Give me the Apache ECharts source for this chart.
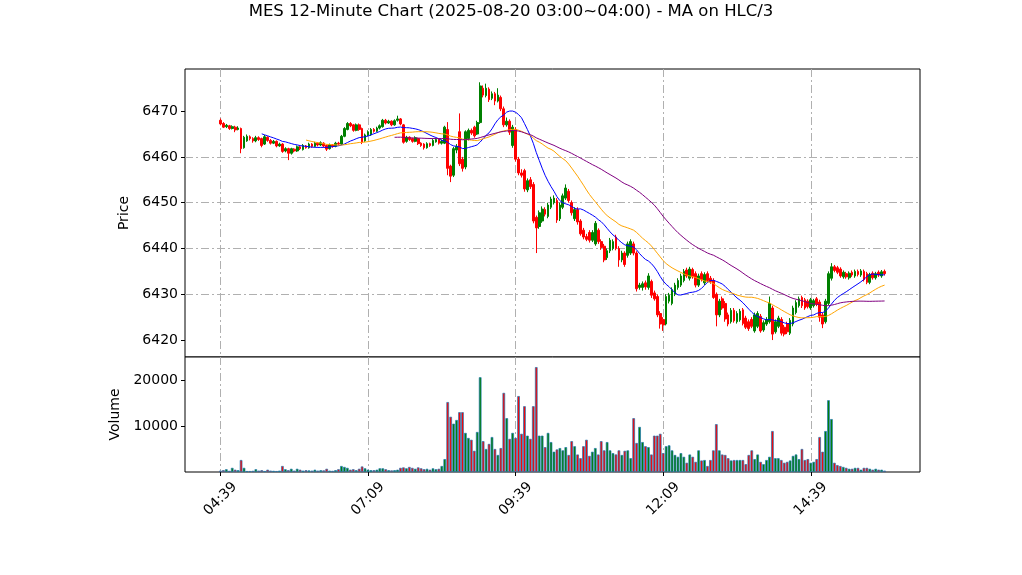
<!DOCTYPE html>
<html><head><meta charset="utf-8">
<script src="https://cdn.jsdelivr.net/npm/echarts@6/dist/echarts.min.js"></script>
<style>html,body{margin:0;padding:0;background:#fff}#c{width:1022px;height:575px}</style>
</head><body><div id="c"></div>
<script>
const titleText = 'MES 12-Minute Chart (2025-08-20 03:00~04:00) - MA on HLC/3';
const tickLabels = ['04:39', '07:09', '09:39', '12:09', '14:39'];
const tickBars = [0, 50, 100, 150, 200];
const priceTicks = [6420, 6430, 6440, 6450, 6460, 6470];
const volumeTicks = [10000, 20000];

const opens = [
6468.0,6467.3,6466.6,6466.8,6466.2,6466.5,6466.0,6466.2,6462.0,6463.5,
6464.4,6464.0,6463.5,6464.2,6464.0,6462.8,6464.3,6463.6,6463.0,6463.4,
6462.4,6462.8,6461.3,6461.8,6460.8,6461.7,6461.3,6462.2,6461.6,6462.4,
6462.0,6462.8,6462.3,6463.0,6462.6,6463.0,6462.5,6461.8,6462.6,6462.3,
6463.0,6462.8,6464.5,6466.0,6467.3,6467.0,6465.8,6467.0,6466.2,6463.5,
6464.8,6464.8,6466.0,6465.6,6466.3,6466.6,6468.0,6467.4,6467.8,6467.0,
6468.0,6468.3,6467.0,6463.4,6464.3,6464.0,6463.4,6464.0,6463.0,6462.8,
6462.0,6462.9,6462.5,6463.3,6463.8,6463.0,6463.0,6466.0,6458.0,6456.0,
6461.5,6465.5,6459.5,6457.8,6464.0,6465.8,6466.5,6465.0,6467.5,6475.0,
6473.4,6474.8,6472.8,6473.8,6472.2,6473.0,6470.5,6467.0,6467.8,6462.5,
6466.0,6459.5,6456.5,6457.0,6452.8,6455.0,6454.0,6446.8,6444.8,6446.0,
6448.5,6447.0,6449.0,6450.0,6450.5,6446.5,6449.0,6451.0,6452.5,6450.0,
6446.5,6448.5,6446.0,6444.0,6442.6,6443.5,6441.8,6441.0,6444.0,6441.5,
6440.5,6438.0,6439.5,6440.0,6442.5,6440.0,6437.5,6439.0,6438.5,6439.0,
6441.0,6439.0,6431.5,6431.5,6432.5,6431.5,6432.8,6430.3,6429.5,6425.8,
6424.5,6423.5,6428.5,6428.0,6430.0,6431.5,6432.0,6433.0,6435.3,6433.5,
6435.4,6434.5,6432.0,6434.5,6432.5,6434.5,6433.5,6433.0,6430.0,6425.5,
6429.0,6428.0,6425.5,6424.0,6426.5,6424.0,6424.4,6426.6,6424.8,6424.0,
6424.5,6422.0,6423.0,6425.2,6422.2,6423.5,6424.0,6427.0,6421.8,6423.0,
6424.5,6422.8,6423.6,6421.5,6423.5,6426.0,6427.5,6429.3,6428.8,6428.5,
6427.0,6427.5,6429.0,6428.3,6425.5,6424.0,6428.0,6433.5,6436.0,6435.8,
6435.5,6433.8,6434.5,6433.6,6434.8,6434.0,6435.0,6434.2,6435.0,6434.5,
6432.6,6434.6,6433.6,6434.8,6434.0,6435.0];

const closes = [
6467.2,6466.5,6466.9,6466.2,6466.6,6465.9,6466.3,6461.8,6464.3,6464.5,
6464.0,6463.5,6464.2,6463.8,6462.5,6464.4,6463.6,6463.0,6463.4,6462.4,
6462.8,6461.2,6461.8,6460.8,6461.8,6461.3,6462.2,6461.8,6462.5,6462.0,
6462.8,6462.3,6463.0,6462.6,6463.1,6462.4,6461.7,6462.6,6462.3,6463.0,
6462.8,6464.5,6466.2,6467.3,6466.8,6465.8,6467.0,6466.0,6463.2,6464.8,
6465.5,6466.0,6465.6,6466.3,6466.8,6468.0,6467.4,6467.8,6467.0,6467.9,
6468.3,6467.2,6463.2,6464.3,6463.8,6463.4,6464.2,6462.9,6462.5,6462.0,
6462.9,6462.5,6463.6,6463.8,6463.0,6463.4,6466.5,6457.5,6455.8,6461.8,
6462.3,6458.5,6457.5,6465.5,6465.8,6465.2,6464.6,6467.5,6475.5,6473.5,
6475.0,6472.5,6473.8,6472.2,6473.5,6470.5,6467.0,6467.8,6465.4,6466.5,
6459.5,6456.5,6456.0,6453.0,6454.8,6453.5,6446.0,6444.5,6447.8,6448.6,
6447.5,6449.5,6450.8,6451.0,6446.2,6449.5,6451.5,6453.2,6450.5,6447.8,
6448.5,6445.8,6443.2,6442.5,6442.0,6441.8,6443.5,6445.5,6441.5,6440.2,
6437.5,6439.5,6441.8,6441.5,6440.0,6437.5,6439.0,6436.5,6441.0,6441.5,
6439.0,6431.2,6432.0,6432.3,6431.6,6434.0,6429.8,6429.0,6425.5,6423.5,
6423.3,6429.5,6429.8,6431.0,6432.0,6433.0,6434.0,6435.0,6434.0,6435.5,
6433.8,6432.0,6434.0,6433.2,6434.3,6433.0,6432.8,6429.3,6425.5,6428.5,
6427.0,6424.6,6423.5,6426.5,6424.2,6425.8,6426.3,6423.6,6422.8,6422.5,
6423.0,6425.5,6425.8,6422.0,6423.8,6424.5,6428.0,6421.3,6424.0,6424.8,
6421.5,6421.3,6421.8,6424.3,6427.0,6428.2,6429.0,6427.5,6427.0,6427.3,
6428.8,6428.6,6427.8,6425.0,6423.5,6428.5,6434.5,6436.0,6435.2,6434.8,
6434.0,6434.8,6433.8,6434.6,6434.2,6435.0,6434.3,6435.1,6433.2,6432.6,
6434.3,6433.6,6434.5,6434.2,6434.9,6434.5];

const highs = [
6468.4,6467.6,6467.2,6467.0,6466.9,6466.8,6466.7,6466.4,6464.6,6464.9,
6464.7,6464.3,6464.6,6464.5,6464.2,6464.8,6464.5,6463.9,6463.7,6463.6,
6463.1,6463.0,6462.1,6462.0,6462.0,6461.9,6462.5,6462.4,6462.8,6462.6,
6463.1,6463.0,6463.3,6463.2,6463.4,6463.2,6462.7,6462.9,6462.8,6463.3,
6463.3,6464.8,6466.5,6467.6,6467.6,6467.2,6467.3,6467.3,6466.4,6465.1,
6465.8,6466.3,6466.3,6466.6,6467.1,6468.3,6468.3,6468.1,6468.0,6468.2,
6469.0,6468.5,6467.2,6464.6,6464.5,6464.2,6464.5,6464.2,6463.2,6463.0,
6463.2,6463.1,6463.9,6464.1,6464.0,6463.8,6466.8,6467.6,6458.3,6462.2,
6462.8,6469.5,6460.0,6465.8,6466.2,6466.2,6466.8,6467.9,6476.3,6475.6,
6476.0,6475.2,6474.3,6474.2,6475.0,6473.4,6471.0,6468.6,6468.2,6467.0,
6466.5,6460.0,6457.3,6457.4,6455.3,6455.6,6454.5,6447.2,6448.3,6449.2,
6449.0,6450.0,6451.3,6451.6,6451.0,6450.0,6452.0,6454.0,6453.0,6450.5,
6449.0,6449.0,6446.4,6444.5,6443.2,6444.0,6444.0,6446.0,6444.4,6442.0,
6441.0,6440.0,6442.3,6442.0,6443.0,6440.5,6439.5,6439.4,6441.5,6442.0,
6441.5,6439.4,6432.5,6432.8,6433.0,6434.6,6433.2,6430.8,6430.0,6426.3,
6425.0,6430.0,6430.3,6431.5,6432.5,6433.5,6434.5,6435.5,6435.8,6436.0,
6435.8,6435.0,6434.5,6435.0,6434.8,6435.0,6434.0,6433.5,6430.4,6429.0,
6429.5,6428.5,6426.0,6427.0,6427.0,6426.3,6426.8,6427.0,6425.3,6424.5,
6425.0,6426.0,6426.3,6425.7,6424.3,6425.0,6429.5,6427.5,6424.5,6425.3,
6425.0,6423.3,6424.0,6424.8,6427.5,6428.7,6429.5,6429.7,6429.2,6428.9,
6429.2,6429.0,6429.4,6428.8,6426.0,6429.0,6435.0,6436.8,6436.4,6436.2,
6435.9,6435.2,6434.9,6435.0,6435.2,6435.4,6435.4,6435.5,6435.4,6434.9,
6434.7,6435.0,6434.9,6435.2,6435.3,6435.4];

const lows = [
6466.9,6466.3,6466.3,6465.9,6466.0,6465.4,6465.8,6460.8,6461.8,6463.3,
6463.6,6463.1,6463.2,6463.5,6462.1,6462.6,6463.3,6462.7,6462.8,6462.1,
6462.2,6460.9,6461.0,6459.3,6460.5,6461.0,6461.1,6461.5,6461.4,6461.8,
6461.8,6462.0,6462.1,6462.3,6462.4,6462.1,6461.3,6461.6,6462.0,6462.1,
6462.5,6462.6,6464.3,6465.8,6466.5,6465.5,6465.6,6465.7,6462.8,6463.3,
6464.5,6464.6,6465.3,6465.4,6466.0,6466.4,6467.1,6467.2,6466.7,6466.8,
6467.7,6466.9,6462.9,6463.1,6463.5,6463.1,6463.2,6462.6,6462.2,6461.6,
6461.8,6462.2,6462.3,6463.1,6462.7,6462.7,6462.8,6456.0,6454.5,6455.6,
6460.8,6458.0,6456.8,6457.3,6463.6,6464.8,6464.2,6464.8,6467.2,6473.0,
6473.0,6472.0,6472.4,6471.3,6471.9,6470.0,6466.5,6466.6,6464.8,6462.0,
6459.0,6456.0,6455.5,6452.4,6452.3,6453.0,6445.5,6439.0,6444.3,6445.6,
6447.0,6446.6,6448.6,6449.6,6445.6,6446.0,6448.6,6450.6,6450.0,6447.2,
6446.0,6445.2,6442.8,6442.0,6441.6,6441.3,6441.4,6440.6,6441.0,6439.7,
6437.0,6437.5,6439.0,6439.6,6439.6,6436.0,6437.0,6436.0,6438.0,6438.6,
6438.5,6430.6,6431.0,6430.8,6431.0,6431.0,6429.2,6428.6,6425.0,6422.5,
6422.0,6423.2,6428.0,6427.6,6429.6,6431.0,6431.6,6432.6,6433.6,6433.0,
6433.4,6431.5,6431.6,6432.8,6432.0,6432.6,6432.3,6429.0,6423.0,6425.0,
6426.6,6424.0,6423.0,6423.6,6423.8,6423.6,6424.0,6423.2,6422.4,6422.0,
6422.6,6421.6,6422.6,6421.6,6421.8,6423.1,6423.6,6420.0,6421.4,6422.6,
6421.0,6420.8,6421.3,6421.1,6423.0,6425.6,6427.1,6427.0,6426.6,6426.9,
6426.6,6427.1,6427.4,6424.0,6422.6,6423.6,6427.6,6433.0,6434.8,6434.4,
6433.6,6433.4,6433.4,6433.2,6433.8,6433.6,6433.9,6433.8,6432.8,6432.2,
6432.2,6433.2,6433.2,6433.8,6433.6,6434.1];

const volumes = [
300,400,600,250,900,500,400,2600,900,200,
200,250,600,300,400,200,500,300,250,200,
300,1300,600,400,700,300,700,500,300,400,
350,300,500,300,400,350,700,300,250,400,
600,1300,1100,900,500,600,400,700,1200,800,
500,400,400,500,800,800,600,400,350,400,
500,900,1000,800,1100,900,700,1000,800,600,
700,500,800,600,700,1300,2800,15200,12000,10500,
11300,13000,13000,8500,7400,7000,4600,8700,20600,6700,
5000,6100,7600,5000,3700,5200,17200,11700,7200,8500,
7400,16500,8300,14300,7900,7200,14300,22800,7900,7900,
5400,8500,6500,4400,4900,5200,4700,5400,3700,6700,
5600,3800,3000,5600,7000,3500,4400,5200,3800,6700,
4700,6500,4700,4100,3800,4700,3700,4600,4700,3000,
11700,6300,9800,6500,5600,5400,3800,7900,7900,8300,
4100,5600,5800,4700,3700,3300,4100,3300,2000,3800,
3300,2200,4700,2500,2600,1300,2600,4700,10400,4700,
3800,3700,3000,2500,2600,2600,2600,2600,1700,3700,
4700,2800,3800,2200,1700,2600,3300,8900,3000,3000,
2600,2000,2200,2500,3500,3800,2800,5000,2600,2800,
2000,2200,2800,7600,4400,8900,15600,11500,2000,1500,
1300,1100,900,700,700,900,900,500,900,900,
700,500,700,500,500,300];

const maWindows = [15, 30, 60];
const maColors = ['#0000ff', '#ffa500', '#800080'];

const PAD = 12;
const N = opens.length;
const TOTAL = N + 2 * PAD;
const UP = '#008000', DOWN = '#ff0000', EDGE = '#1f77b4';
const FONT = 'DejaVu Sans';

const cats = [];
for (let k = 0; k < TOTAL; k++) cats.push(String(k - PAD));

const candleData = cats.map((_, k) => {
  const i = k - PAD;
  return (i >= 0 && i < N) ? [opens[i], closes[i], lows[i], highs[i]] : '-';
});
const volData = cats.map((_, k) => {
  const i = k - PAD;
  if (i < 0 || i >= N) return '-';
  return { value: volumes[i], itemStyle: { color: closes[i] >= opens[i] ? UP : DOWN } };
});
const hlc3 = opens.map((_, i) => (highs[i] + lows[i] + closes[i]) / 3);
function maSeries(w) {
  return cats.map((_, k) => {
    const i = k - PAD;
    if (i < w - 1 || i >= N) return '-';
    let s = 0;
    for (let j = i - w + 1; j <= i; j++) s += hlc3[j];
    return +(s / w).toFixed(3);
  });
}

const isTick = idx => tickBars.indexOf(idx - PAD) >= 0;
const gridLine = { color: '#b0b0b0', type: [8, 3, 2, 3], width: 1 };
const tickStyle = { color: '#000', width: 1 };
const labelStyle = { fontFamily: FONT, fontSize: 14, color: '#000' };

const chart = echarts.init(document.getElementById('c'), null, { renderer: 'canvas', width: 1022, height: 575 });
const option = {
  animation: false,
  backgroundColor: '#fff',
  title: { text: titleText, left: 'center', top: -2,
    textStyle: { fontFamily: FONT, fontSize: 16.5, fontWeight: 'normal', color: '#000' } },
  grid: [
    { left: 185, top: 69, width: 735, height: 288, show: true, borderColor: '#000', borderWidth: 1, backgroundColor: '#fff' },
    { left: 185, top: 357, width: 735, height: 115, show: true, borderColor: '#000', borderWidth: 1, backgroundColor: '#fff' }
  ],
  xAxis: [
    { type: 'category', gridIndex: 0, data: cats, boundaryGap: false,
      axisLine: { show: false }, axisTick: { show: false }, axisLabel: { show: false },
      splitLine: { show: true, interval: i => isTick(i), lineStyle: gridLine } },
    { type: 'category', gridIndex: 1, data: cats, boundaryGap: false,
      axisLine: { show: false },
      axisTick: { show: true, interval: i => isTick(i), length: 4, lineStyle: tickStyle },
      axisLabel: Object.assign({ interval: i => isTick(i), rotate: 45, align: 'center', verticalAlign: 'middle', margin: 27,
        formatter: v => { const t = tickBars.indexOf(+v); return t >= 0 ? tickLabels[t] : ''; } }, labelStyle),
      splitLine: { show: true, interval: i => isTick(i), lineStyle: gridLine } }
  ],
  yAxis: [
    { type: 'value', gridIndex: 0, min: 6416.3, max: 6479.2, splitNumber: 6,
      name: 'Price', nameLocation: 'middle', nameGap: 44, nameTextStyle: labelStyle,
      axisLine: { show: false },
      axisTick: { show: true, length: 4, lineStyle: tickStyle, customValues: priceTicks },
      axisLabel: Object.assign({ customValues: priceTicks, margin: 7, formatter: v => String(Math.round(v)) }, labelStyle),
      splitLine: { show: true, showMinLine: false, showMaxLine: false, lineStyle: gridLine } },
    { type: 'value', gridIndex: 1, min: 0, max: 25000, interval: 10000,
      name: 'Volume', nameLocation: 'middle', nameGap: 52, nameTextStyle: labelStyle,
      axisLine: { show: false },
      axisTick: { show: true, length: 4, lineStyle: tickStyle, customValues: volumeTicks },
      axisLabel: Object.assign({ customValues: volumeTicks, margin: 7, formatter: v => String(Math.round(v)) }, labelStyle),
      splitLine: { show: true, showMinLine: false, showMaxLine: false, lineStyle: gridLine } }
  ],
  series: [
    { type: 'candlestick', xAxisIndex: 0, yAxisIndex: 0, data: candleData, barWidth: 2.2, z: 3,
      itemStyle: { color: UP, color0: DOWN, borderColor: UP, borderColor0: DOWN, borderWidth: 1 } },
    { type: 'bar', xAxisIndex: 1, yAxisIndex: 1, data: volData, barWidth: 2.6, z: 3,
      itemStyle: { borderColor: EDGE, borderWidth: 0.7 } }
  ].concat(maWindows.map((w, k) => ({
    type: 'line', xAxisIndex: 0, yAxisIndex: 0, data: maSeries(w), showSymbol: false, symbol: 'none',
    connectNulls: false, z: 5, lineStyle: { color: maColors[k], width: 1 }, itemStyle: { color: maColors[k] }
  })))
};
chart.setOption(option);
</script>
</body></html>
